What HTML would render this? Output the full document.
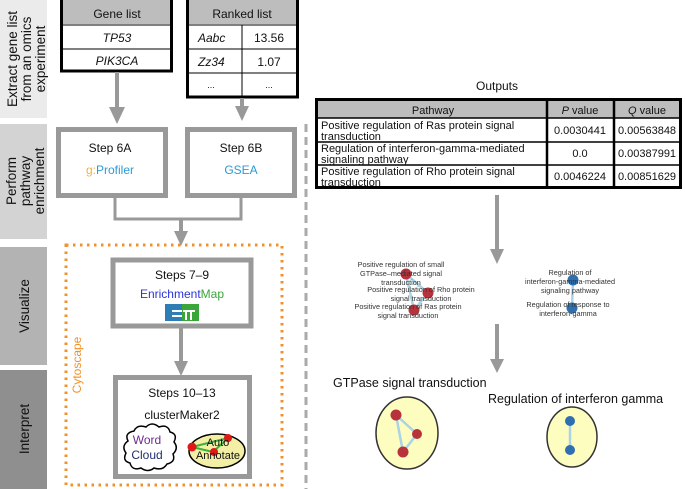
<!DOCTYPE html>
<html><head><meta charset="utf-8"><style>
html,body{margin:0;padding:0;background:#fff;}
svg{display:block;font-family:"Liberation Sans",Arial,sans-serif;}
</style></head><body>
<svg width="685" height="489" viewBox="0 0 685 489" xmlns="http://www.w3.org/2000/svg">
<!-- sidebar -->
<rect x="0" y="0" width="47" height="118" fill="#ebebeb"/>
<rect x="0" y="124" width="47" height="115" fill="#d3d3d3"/>
<rect x="0" y="247" width="47" height="118" fill="#b3b3b3"/>
<rect x="0" y="370" width="47" height="119" fill="#8f8f8f"/>
<g font-size="13.5" fill="#111" text-anchor="middle">
<text transform="translate(17,59) rotate(-90)">Extract gene list</text>
<text transform="translate(31,59) rotate(-90)">from an omics</text>
<text transform="translate(45,59) rotate(-90)">experiment</text>
<text transform="translate(16,181) rotate(-90)">Perform</text>
<text transform="translate(30,181) rotate(-90)">pathway</text>
<text transform="translate(44,181) rotate(-90)">enrichment</text>
<text transform="translate(29,306) rotate(-90)">Visualize</text>
<text transform="translate(29,429) rotate(-90)">Interpret</text>
</g>
<!-- gene list -->
<rect x="61.5" y="-2" width="110" height="73" fill="#fff" stroke="#000" stroke-width="3"/>
<rect x="63" y="0" width="107" height="24" fill="#bdbdbd"/>
<line x1="63" y1="25" x2="170" y2="25" stroke="#000"/>
<line x1="63" y1="49" x2="170" y2="49" stroke="#000"/>
<g font-size="12" text-anchor="middle" fill="#111">
<text x="117" y="18">Gene list</text>
<text x="117" y="42" font-style="italic">TP53</text>
<text x="117" y="65" font-style="italic">PIK3CA</text>
</g>
<!-- ranked list -->
<rect x="187.5" y="-2" width="110" height="99" fill="#fff" stroke="#000" stroke-width="3"/>
<rect x="189" y="0" width="107" height="24" fill="#bdbdbd"/>
<line x1="189" y1="25" x2="296" y2="25" stroke="#000"/>
<line x1="189" y1="49" x2="296" y2="49" stroke="#000"/>
<line x1="189" y1="73" x2="296" y2="73" stroke="#000"/>
<line x1="242" y1="25" x2="242" y2="96" stroke="#000"/>
<g font-size="12" fill="#111">
<text x="242" y="18" text-anchor="middle">Ranked list</text>
<text x="198" y="42" font-style="italic">Aabc</text>
<text x="198" y="66" font-style="italic">Zz34</text>
<text x="211" y="88" text-anchor="middle" font-size="9">...</text>
<text x="269" y="42" text-anchor="middle">13.56</text>
<text x="269" y="66" text-anchor="middle">1.07</text>
<text x="269" y="88" text-anchor="middle" font-size="9">...</text>
</g>
<!-- arrows -->
<g stroke="#999" stroke-width="4" fill="none">
<line x1="117" y1="72" x2="117" y2="108"/>
<line x1="242" y1="98" x2="242" y2="108"/>
<polyline points="115,197 115,219 241,219 241,197" stroke-width="3"/>
<line x1="181" y1="219" x2="181" y2="232"/>
<line x1="181" y1="328" x2="181" y2="362"/>
<line x1="497" y1="195" x2="497" y2="250"/>
<line x1="497" y1="324" x2="497" y2="360"/>
</g>
<g fill="#999">
<polygon points="109,107 125,107 117,124"/>
<polygon points="235,106 249,106 242,121"/>
<polygon points="174,231 188,231 181,246"/>
<polygon points="174,361 188,361 181,376"/>
<polygon points="490,249 504,249 497,264"/>
<polygon points="490,359 504,359 497,373"/>
</g>
<!-- step boxes -->
<rect x="58.5" y="129.5" width="107" height="66" fill="#fff" stroke="#999" stroke-width="5"/>
<rect x="187.5" y="129.5" width="107" height="66" fill="#fff" stroke="#999" stroke-width="5"/>
<g font-size="12" text-anchor="middle">
<text x="110" y="152" fill="#111">Step 6A</text>
<text x="110" y="174"><tspan fill="#f5b335">g:</tspan><tspan fill="#2a9bd6">Profiler</tspan></text>
<text x="241" y="152" fill="#111">Step 6B</text>
<text x="241" y="174" fill="#2a9bd6">GSEA</text>
</g>
<line x1="306" y1="124" x2="306" y2="489" stroke="#aaa" stroke-width="3" stroke-dasharray="8,5"/>
<rect x="66" y="245" width="216" height="240" fill="none" stroke="#f0922b" stroke-width="3" stroke-dasharray="2.5,4.5"/>
<text transform="translate(81,365) rotate(-90)" font-size="12" fill="#f0922b" text-anchor="middle">Cytoscape</text>
<rect x="113" y="260" width="138" height="66" fill="#fff" stroke="#999" stroke-width="5"/>
<g font-size="12" text-anchor="middle">
<text x="182" y="279" fill="#111">Steps 7–9</text>
<text x="182" y="298"><tspan fill="#2a35d6">Enrichment</tspan><tspan fill="#3aa63a">Map</tspan></text>
</g>
<rect x="165" y="304" width="17" height="17" fill="#2e7db5"/>
<rect x="182" y="304" width="17" height="17" fill="#3aa63a"/>
<g fill="#fff"><rect x="172" y="310" width="10" height="2"/><rect x="172" y="315" width="10" height="2"/>
<rect x="183" y="310" width="12" height="2"/><rect x="185" y="310" width="2" height="10"/><rect x="190" y="310" width="2" height="10"/></g>
<rect x="115.5" y="377.5" width="134" height="99" fill="#fff" stroke="#999" stroke-width="5"/>
<g font-size="12" text-anchor="middle" fill="#111">
<text x="182" y="397">Steps 10–13</text>
<text x="182" y="419">clusterMaker2</text>
</g>
<path d="M128,441 q-4,-8 6,-10 q3,-7 12,-4 q6,-6 13,0 q9,-3 11,5 q8,2 4,10 q5,6 -1,12 q3,8 -6,10 q-4,7 -13,4 q-6,5 -13,0 q-9,3 -11,-5 q-8,-2 -4,-10 q-5,-7 2,-12 z" fill="#fff" stroke="#000" stroke-width="1.5"/>
<text x="147" y="444" font-size="12" text-anchor="middle" fill="#6f2a8f">Word</text>
<text x="147" y="459" font-size="12" text-anchor="middle" fill="#1f2f6f">Cloud</text>
<ellipse cx="217" cy="451" rx="28" ry="17" fill="#f3f0a6" stroke="#000" stroke-width="1.5"/>
<polyline points="192,447 228,438 213,452 192,447" fill="none" stroke="#3bb33b" stroke-width="2"/>
<circle cx="192" cy="447" r="4.5" fill="#e01818"/>
<circle cx="228" cy="438" r="4" fill="#e01818"/>
<circle cx="214" cy="452" r="4" fill="#e01818"/>
<text x="218" y="446" font-size="11" text-anchor="middle" fill="#111">Auto</text>
<text x="218" y="459" font-size="11" text-anchor="middle" fill="#111">Annotate</text>
<!-- outputs -->
<text x="497" y="90" font-size="12" text-anchor="middle" fill="#111">Outputs</text>
<rect x="316.5" y="99.5" width="364" height="88" fill="#fff" stroke="#000" stroke-width="3"/>
<rect x="318" y="101" width="361" height="17" fill="#bdbdbd"/>
<g stroke="#000" stroke-width="1.5">
<line x1="318" y1="118" x2="679" y2="118"/>
<line x1="318" y1="142" x2="679" y2="142"/>
<line x1="318" y1="165" x2="679" y2="165"/>
</g>
<g stroke="#000" stroke-width="2.5">
<line x1="547" y1="100" x2="547" y2="187"/>
<line x1="614" y1="100" x2="614" y2="187"/>
</g>
<g font-size="11" fill="#111">
<text x="433" y="114" text-anchor="middle">Pathway</text>
<text x="580" y="114" text-anchor="middle"><tspan font-style="italic">P</tspan> value</text>
<text x="647" y="114" text-anchor="middle"><tspan font-style="italic">Q</tspan> value</text>
<text x="321" y="129">Positive regulation of Ras protein signal</text>
<text x="321" y="140">transduction</text>
<text x="580" y="134" text-anchor="middle">0.0030441</text>
<text x="647" y="134" text-anchor="middle">0.00563848</text>
<text x="321" y="152">Regulation of interferon-gamma-mediated</text>
<text x="321" y="163">signaling pathway</text>
<text x="580" y="157" text-anchor="middle">0.0</text>
<text x="647" y="157" text-anchor="middle">0.00387991</text>
<text x="321" y="175">Positive regulation of Rho protein signal</text>
<text x="321" y="186">transduction</text>
<text x="580" y="180" text-anchor="middle">0.0046224</text>
<text x="647" y="180" text-anchor="middle">0.00851629</text>
</g>
<!-- network -->
<g stroke="#a8d4e6" stroke-width="2.5">
<line x1="406" y1="274" x2="414" y2="310"/><line x1="406" y1="274" x2="428" y2="293"/><line x1="428" y1="293" x2="414" y2="310"/>
<line x1="573" y1="280" x2="572" y2="308"/>
</g>
<circle cx="406" cy="274" r="5.5" fill="#b8323c"/>
<circle cx="428" cy="293" r="5.5" fill="#b8323c"/>
<circle cx="414" cy="310" r="5.5" fill="#b8323c"/>
<circle cx="573" cy="280" r="5.5" fill="#2e6fb0"/>
<circle cx="572" cy="308" r="5.5" fill="#2e6fb0"/>
<g font-size="7.3" fill="#333" text-anchor="middle">
<text x="401" y="267">Positive regulation of small</text>
<text x="401" y="276">GTPase–mediated signal</text>
<text x="401" y="285">transduction</text>
<text x="421" y="292">Positive regulation of Rho protein</text>
<text x="421" y="301">signal transduction</text>
<text x="408" y="309">Positive regulation of Ras protein</text>
<text x="408" y="318">signal transduction</text>
<text x="570" y="275">Regulation of</text>
<text x="570" y="284">interferon-gamma-mediated</text>
<text x="570" y="293">signaling pathway</text>
<text x="568" y="307">Regulation of response to</text>
<text x="568" y="316">interferon-gamma</text>
</g>
<!-- clusters -->
<text x="333" y="387" font-size="12.5" fill="#111">GTPase signal transduction</text>
<text x="488" y="403" font-size="12.5" fill="#111">Regulation of interferon gamma</text>
<ellipse cx="407" cy="433" rx="31" ry="36" fill="#fdfdc0" stroke="#333" stroke-width="1.5"/>
<ellipse cx="572" cy="437" rx="25" ry="30" fill="#fdfdc0" stroke="#333" stroke-width="1.5"/>
<g stroke="#a8d4e6" stroke-width="2.5">
<line x1="396" y1="415" x2="417" y2="434"/><line x1="396" y1="415" x2="403" y2="452"/><line x1="417" y1="434" x2="403" y2="452"/>
<line x1="570" y1="421" x2="570" y2="450"/>
</g>
<circle cx="396" cy="415" r="5.5" fill="#b8323c"/>
<circle cx="417" cy="434" r="5" fill="#b8323c"/>
<circle cx="403" cy="452" r="5.5" fill="#b8323c"/>
<circle cx="570" cy="421" r="5" fill="#2e6fb0"/>
<circle cx="570" cy="450" r="5" fill="#2e6fb0"/>
</svg>
</body></html>
